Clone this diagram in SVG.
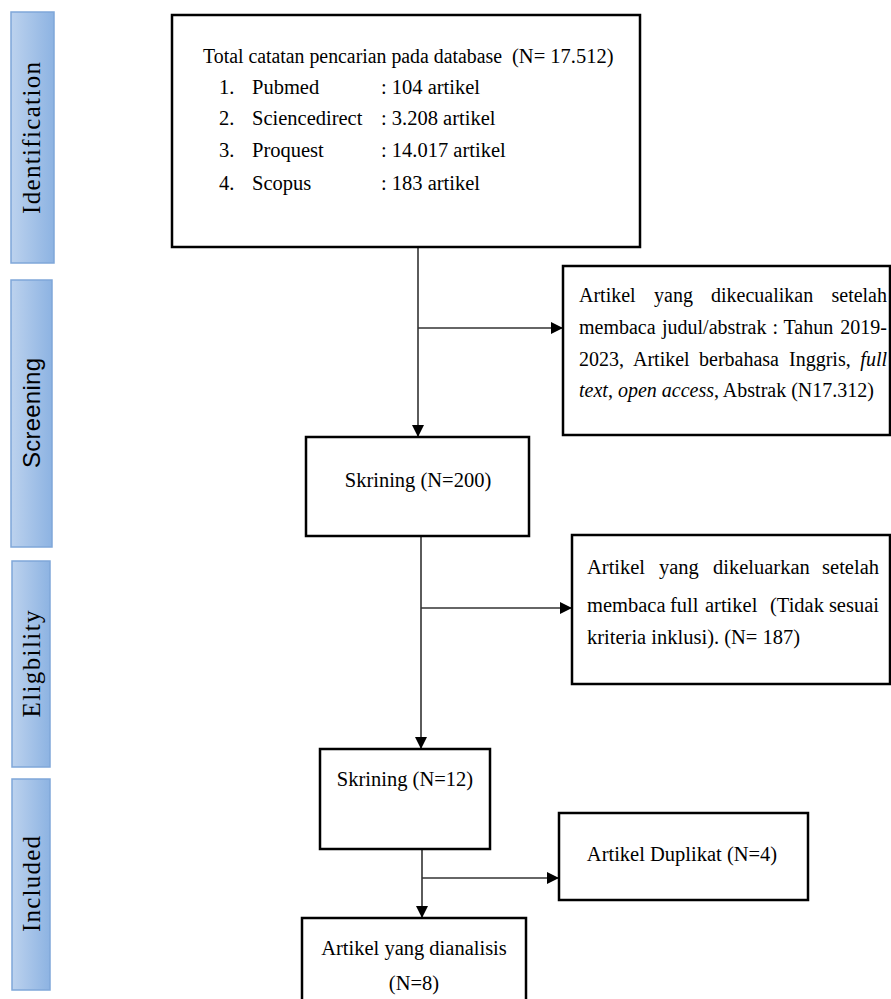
<svg xmlns="http://www.w3.org/2000/svg" width="891" height="999" viewBox="0 0 891 999">
<style>
.box{fill:#fff;stroke:#000;stroke-width:2.5}
.side{fill:url(#sg);stroke:#7fa7d9;stroke-width:1.5}
.t{font-family:"Liberation Serif","Times New Roman",serif;font-size:20.5px;fill:#000}
.t2{font-size:20px}
.ts{font-family:"Liberation Serif","Times New Roman",serif;font-size:25px;fill:#000}
.tsa{font-family:"Liberation Sans",Arial,sans-serif;font-size:24px;fill:#000}
.c{text-anchor:middle}
.e{text-anchor:end}
.i{font-style:italic}
.ln{fill:none;stroke:#333;stroke-width:1.6}
</style>
<defs>
<linearGradient id="sg" x1="0" y1="0" x2="1" y2="0">
<stop offset="0" stop-color="#bcd2ee"/>
<stop offset="1" stop-color="#8db3e2"/>
</linearGradient>
<marker id="ah" viewBox="0 0 10 10" refX="10" refY="5" markerWidth="12" markerHeight="12" markerUnits="userSpaceOnUse" orient="auto">
<path d="M0,0 L10,5 L0,10 z" fill="#000"/>
</marker>
</defs>

<g id="stage-identification">
<rect class="side" x="11" y="12" width="43" height="251"/>
<text class="ts c" transform="translate(40,138) rotate(-90)" textLength="152" lengthAdjust="spacing">Identification</text>
</g>
<g id="stage-screening">
<rect class="side" x="11" y="280" width="41" height="267"/>
<text class="tsa c" transform="translate(40,413) rotate(-90)" textLength="110" lengthAdjust="spacing">Screening</text>
</g>
<g id="stage-eligibility">
<rect class="side" x="12" y="561" width="38" height="206"/>
<text class="ts c" transform="translate(40,664) rotate(-90)" textLength="107" lengthAdjust="spacing">Eligbility</text>
</g>
<g id="stage-included">
<rect class="side" x="12" y="779" width="38" height="211"/>
<text class="ts c" transform="translate(40,884) rotate(-90)" textLength="96" lengthAdjust="spacing">Included</text>
</g>

<g id="connectors">
<line class="ln" x1="418" y1="247" x2="418" y2="437" marker-end="url(#ah)"/>
<line class="ln" x1="418" y1="328" x2="563" y2="328" marker-end="url(#ah)"/>
<line class="ln" x1="421" y1="536" x2="421" y2="749" marker-end="url(#ah)"/>
<line class="ln" x1="421" y1="608" x2="572" y2="608" marker-end="url(#ah)"/>
<line class="ln" x1="422" y1="849" x2="422" y2="918" marker-end="url(#ah)"/>
<line class="ln" x1="422" y1="878" x2="559" y2="878" marker-end="url(#ah)"/>
</g>

<g id="node-total">
<rect class="box" x="172" y="15" width="468" height="232"/>
<text class="t" x="203" y="63" textLength="299" lengthAdjust="spacingAndGlyphs">Total catatan pencarian pada database</text>
<text class="t" x="512" y="63">(N= 17.512)</text>
<text class="t" x="219" y="94">1.</text><text class="t" x="252" y="94">Pubmed</text><text class="t" x="381" y="94">: 104 artikel</text>
<text class="t" x="219" y="125">2.</text><text class="t" x="252" y="125">Sciencedirect</text><text class="t" x="381" y="125">: 3.208 artikel</text>
<text class="t" x="219" y="157">3.</text><text class="t" x="252" y="157">Proquest</text><text class="t" x="381" y="157">: 14.017 artikel</text>
<text class="t" x="219" y="190">4.</text><text class="t" x="252" y="190">Scopus</text><text class="t" x="381" y="190">: 183 artikel</text>
</g>

<g id="node-excluded-title">
<rect class="box" x="563" y="266" width="327" height="169"/>
<text class="t t2" y="302"><tspan x="579">Artikel</tspan><tspan x="654">yang</tspan><tspan x="711">dikecualikan</tspan></text>
<text class="t t2 e" x="887" y="302">setelah</text>
<text class="t t2" y="334"><tspan x="579">membaca</tspan><tspan x="662">judul/abstrak</tspan><tspan x="772.5">:</tspan><tspan x="783.5">Tahun</tspan></text>
<text class="t t2 e" x="887" y="334">2019-</text>
<text class="t t2" y="366"><tspan x="579">2023,</tspan><tspan x="633">Artikel</tspan><tspan x="699">berbahasa</tspan><tspan x="789">Inggris,</tspan></text>
<text class="t t2 e i" x="887" y="366">full</text>
<text class="t t2" x="579" y="397"><tspan class="i">text</tspan>, <tspan class="i">open access</tspan>, Abstrak (N17.312)</text>
</g>

<g id="node-skrining-200">
<rect class="box" x="306" y="437" width="223" height="99"/>
<text class="t c" x="418" y="487">Skrining (N=200)</text>
</g>

<g id="node-excluded-full">
<rect class="box" x="572" y="535" width="318" height="149"/>
<text class="t" y="574"><tspan x="587">Artikel</tspan><tspan x="659">yang</tspan><tspan x="713">dikeluarkan</tspan></text>
<text class="t e" x="879" y="574">setelah</text>
<text class="t" y="612"><tspan x="587">membaca</tspan><tspan x="670">full</tspan><tspan x="705">artikel</tspan><tspan x="770">(Tidak</tspan></text>
<text class="t e" x="879" y="612">sesuai</text>
<text class="t" x="587" y="644">kriteria inklusi). (N= 187)</text>
</g>

<g id="node-skrining-12">
<rect class="box" x="320" y="749" width="170" height="100"/>
<text class="t c" x="405" y="786">Skrining (N=12)</text>
</g>

<g id="node-duplikat">
<rect class="box" x="559" y="813" width="249" height="87"/>
<text class="t c" x="682" y="861">Artikel Duplikat (N=4)</text>
</g>

<g id="node-final">
<rect class="box" x="302" y="918" width="224" height="90"/>
<text class="t c" x="414" y="955">Artikel yang dianalisis</text>
<text class="t c" x="414" y="990">(N=8)</text>
</g>
</svg>
